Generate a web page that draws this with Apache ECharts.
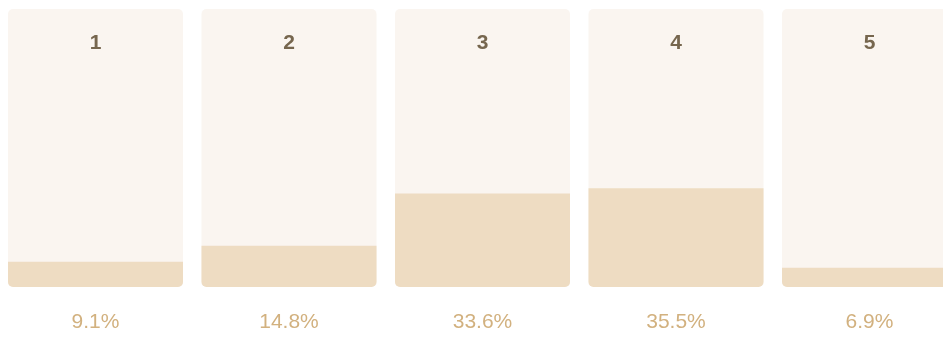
<!DOCTYPE html>
<html>
<head>
<meta charset="utf-8">
<style>
  html, body { margin: 0; padding: 0; background: #ffffff; }
  #chart { width: 943px; height: 337px; }
</style>
<script src="https://cdn.jsdelivr.net/npm/echarts@6/dist/echarts.min.js"></script>
</head>
<body>
<div id="chart"></div>
<script>
// Rating levels and the share of responses at each level (percent)
const levels = ['1', '2', '3', '4', '5'];
const shares = [9.1, 14.8, 33.6, 35.5, 6.9];

const chart = echarts.init(document.getElementById('chart'), null, { renderer: 'canvas' });

chart.setOption({
  backgroundColor: '#ffffff',
  animation: false,
  grid: {
    left: -1.25,
    top: 9,
    width: 967.5,
    height: 278,
    containLabel: false,
    outerBoundsMode: 'none'
  },
  xAxis: {
    type: 'category',
    data: levels,
    position: 'top',
    z: 10,
    axisLine: { show: false },
    axisTick: { show: false },
    axisLabel: {
      inside: true,
      margin: 24,
      fontFamily: 'Liberation Sans, Arial, sans-serif',
      fontSize: 21,
      fontWeight: 'bold',
      color: '#76664e'
    }
  },
  yAxis: {
    type: 'value',
    min: 0,
    max: 100,
    show: false
  },
  series: [{
    type: 'bar',
    data: shares,
    barWidth: 175,
    showBackground: true,
    backgroundStyle: { color: '#faf5f0', borderRadius: 5 },
    itemStyle: { color: '#eedcc2', borderRadius: [0, 0, 5, 5] },
    label: {
      show: true,
      position: 'bottom',
      distance: 25,
      formatter: p => p.value.toFixed(1) + '%',
      fontFamily: 'Liberation Sans, Arial, sans-serif',
      fontSize: 21,
      color: '#d2b17f'
    }
  }]
});
</script>
</body>
</html>
